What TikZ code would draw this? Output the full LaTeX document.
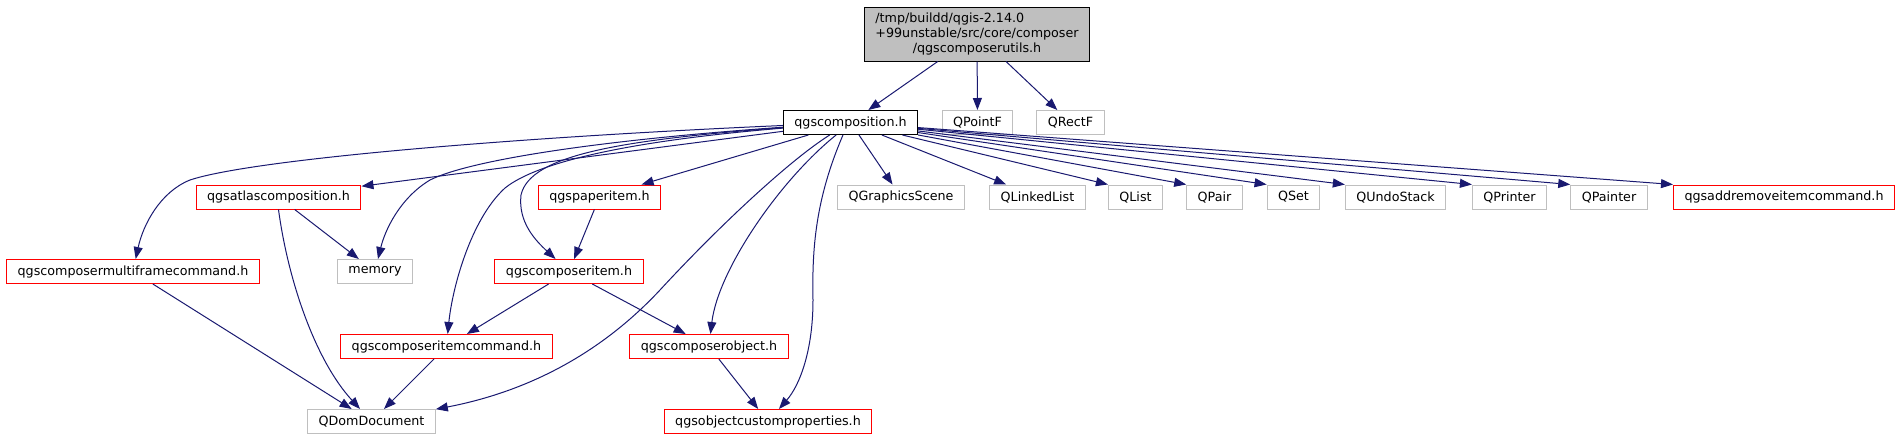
\documentclass[tikz,border=0pt]{standalone}
\usepackage{fontspec}
\setmainfont{DejaVu Sans}
\usetikzlibrary{arrows.meta}
\definecolor{edgeblue}{HTML}{191970}
\definecolor{boxgrey}{HTML}{BFBFBF}

\begin{document}
\begin{tikzpicture}[x=1pt,y=-1pt,
  every node/.style={font=\fontsize{12.7}{15.2}\selectfont},
  file/.style={draw,line width=1pt,minimum height=24pt,
    inner xsep=11pt,inner ysep=0pt},
  header/.style={file,draw=red},
  extern/.style={file,draw=boxgrey},
  dep/.style={-{Triangle[length=12pt,width=9pt]},color=edgeblue,
    line width=1pt}]
  \useasboundingbox (0,0) rectangle (1901,440);
  \node[file,fill=boxgrey,align=center,minimum height=54pt] (utils) at (977,34)
    {\rlap{/tmp/buildd/qgis-2.14.0}\phantom{+99unstable/src/core/composer}\\
     +99unstable/src/core/composer\\/qgscomposerutils.h};
  \node[file] (comp) at (850.5,122.5) {qgscomposition.h};
  \node[extern] (pointf) at (977.5,122.5) {QPointF};
  \node[extern] (rectf) at (1070.5,122.5) {QRectF};
  \node[header] (atlas) at (278.5,197) {qgsatlascomposition.h};
  \node[header] (paper) at (599.5,197) {qgspaperitem.h};
  \node[extern] (scene) at (901,197) {QGraphicsScene};
  \node[extern] (linked) at (1037.5,197) {QLinkedList};
  \node[extern] (qlist) at (1135.5,197) {QList};
  \node[extern] (qpair) at (1214.5,197) {QPair};
  \node[extern] (qset) at (1293.5,197) {QSet};
  \node[extern] (undo) at (1395.5,197) {QUndoStack};
  \node[extern] (printer) at (1509.5,197) {QPrinter};
  \node[extern] (painter) at (1609,197) {QPainter};
  \node[header] (addrem) at (1784,197) {qgsaddremoveitemcommand.h};
  \node[header] (multi) at (133,271.5) {qgscomposermultiframecommand.h};
  \node[extern] (memory) at (375,271.5) {memory};
  \node[header] (item) at (569,271.5) {qgscomposeritem.h};
  \node[header] (itemcmd) at (446.5,346.5) {qgscomposeritemcommand.h};
  \node[header] (object) at (709,346.5) {qgscomposerobject.h};
  \node[extern] (dom) at (371.5,421.5) {QDomDocument};
  \node[header] (custom) at (768,421.5) {qgsobjectcustomproperties.h};
  \draw[dep] (utils) -- (comp);
  \draw[dep] (utils) -- (pointf);
  \draw[dep] (utils) -- (rectf);
  \draw[dep] (comp) .. controls (500,138) and (250,160) .. (190,180)
    .. controls (160,192) and (143,225) .. (multi);
  \draw[dep] (comp) -- (atlas);
  \draw[dep] (comp) .. controls (600,140) and (470,160) .. (430,180)
    .. controls (400,198) and (385,230) .. (memory);
  \draw[dep] (comp) -- (paper);
  \draw[dep] (comp) .. controls (620,140) and (530,155) .. (521,195)
    .. controls (518,222) and (535,240) .. (item);
  \draw[dep] (comp) .. controls (640,140) and (540,160) .. (505,188)
    .. controls (470,220) and (452,290) .. (itemcmd);
  \draw[dep] (comp.211) .. controls (790,160) and (720,225) .. (660,290)
    .. controls (590,365) and (510,395) .. (dom);
  \draw[dep] (comp.221) .. controls (780,180) and (718,270) .. (object);
  \draw[dep] (comp.239) .. controls (815,200) and (812,250) .. (813,300)
    .. controls (813,350) and (800,385) .. (custom);
  \draw[dep] (comp) -- (scene);
  \draw[dep] (comp) -- (linked);
  \foreach \n in {qlist,qpair,qset,undo,printer,painter,addrem}
    \draw[dep] (comp) -- (\n.north west);
  \draw[dep] (atlas) -- (memory);
  \draw[dep] (atlas.south) .. controls (288,280) and (315,360) .. (dom);
  \draw[dep] (paper) -- (item);
  \draw[dep] (multi) -- (dom);
  \draw[dep] (item) -- (itemcmd);
  \draw[dep] (item) -- (object);
  \draw[dep] (itemcmd) -- (dom);
  \draw[dep] (object) -- (custom);
\end{tikzpicture}
\end{document}
